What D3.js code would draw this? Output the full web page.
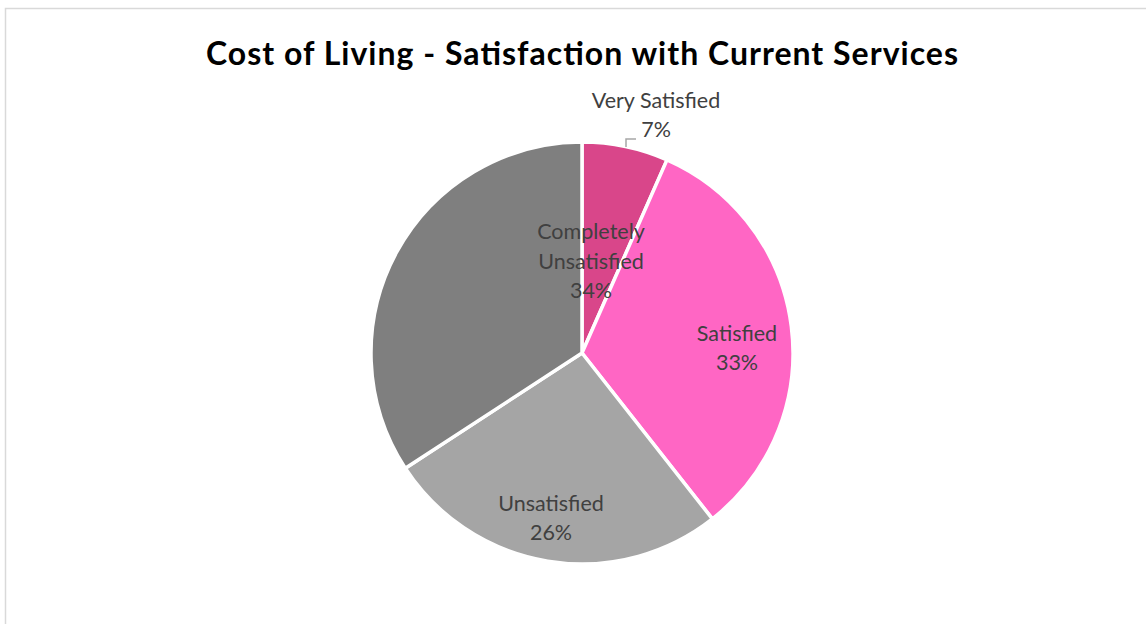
<!DOCTYPE html>
<html>
<head>
<meta charset="utf-8">
<script src="https://cdn.jsdelivr.net/npm/d3@7"></script>
<style>
  body { margin: 0; background: #fff; }
  svg { display: block; }
</style>
</head>
<body>
<svg width="1146" height="624"></svg>
<script>
var categories = ["Very Satisfied", "Satisfied", "Unsatisfied", "Completely Unsatisfied"];
var values     = [6.6, 32.8, 26.4, 34.2];
var nameLines  = [["Very Satisfied"], ["Satisfied"], ["Unsatisfied"], ["Completely", "Unsatisfied"]];
var colors     = ["#D9468A", "#FF66C4", "#A5A5A5", "#7F7F7F"];

var svg    = d3.select("svg"),
    width  = +svg.attr("width"),
    height = +svg.attr("height"),
    cx = 582, cy = 353, radius = 211;

// label anchor offsets from the pie centre (Excel placed them by hand)
var labelOffset = [[74, -238], [155, -5], [-31, 165], [9, -92]];

svg.append("rect")
   .attr("x", 5.5).attr("y", 8.5)
   .attr("width", width + 20).attr("height", height + 20)
   .attr("fill", "#fff")
   .attr("stroke", "#D9D9D9")
   .attr("stroke-width", 1.5);

svg.append("text")
   .attr("x", 582).attr("y", 65)
   .attr("text-anchor", "middle")
   .attr("font-family", "Lato, 'Open Sans', sans-serif")
   .attr("font-weight", "bold")
   .attr("font-size", 32)
   .attr("textLength", 752)
   .attr("lengthAdjust", "spacing")
   .attr("fill", "#000")
   .text("Cost of Living - Satisfaction with Current Services");

var total = d3.sum(values);
var data = categories.map(function(c, i) {
  return {name: c, value: values[i], color: colors[i], off: labelOffset[i],
          lines: nameLines[i].concat([Math.round(values[i] / total * 100) + "%"])};
});

var pie = d3.pie().sort(null).value(function(d) { return d.value; });
var arc = d3.arc().innerRadius(0).outerRadius(radius);

var g = svg.append("g").attr("transform", "translate(" + cx + "," + cy + ")");

g.selectAll("path.slice")
 .data(pie(data))
 .enter().append("path")
 .attr("class", "slice")
 .attr("d", arc)
 .attr("fill", function(d) { return d.data.color; })
 .attr("stroke", "#fff")
 .attr("stroke-width", 3.5)
 .attr("stroke-linejoin", "round");

// leader line for the small slice
g.append("path")
 .attr("d", "M" + 44 + "," + (-radius + 5) + "V" + (-radius - 3) + "H" + 54)
 .attr("fill", "none")
 .attr("stroke", "#A6A6A6")
 .attr("stroke-width", 1.5);

var lineH = 29.5;
var labels = g.selectAll("text.lbl")
  .data(data)
  .enter().append("text")
  .attr("class", "lbl")
  .attr("text-anchor", "middle")
  .attr("font-family", "Lato, 'Open Sans', sans-serif")
  .attr("font-size", 21.5)
  .attr("fill", "#404040")
  .attr("transform", function(d) { return "translate(" + d.off[0] + "," + d.off[1] + ")"; });

labels.each(function(d) {
  var t = d3.select(this), n = d.lines.length;
  d.lines.forEach(function(s, i) {
    t.append("tspan")
     .attr("x", 0)
     .attr("y", (i - (n - 1) / 2) * lineH)
     .attr("dy", "0.35em")
     .text(s);
  });
});
</script>
</body>
</html>
